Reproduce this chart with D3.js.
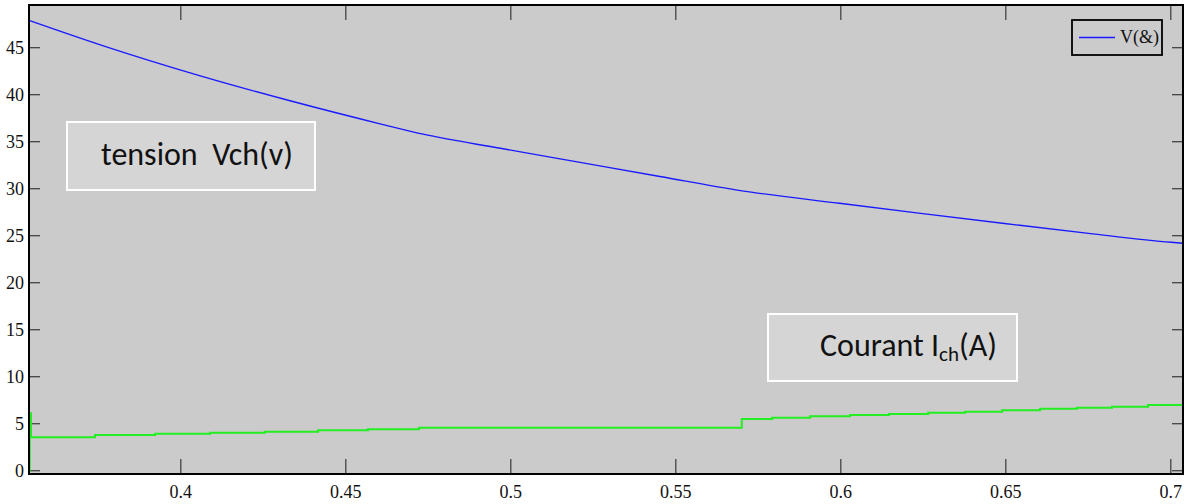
<!DOCTYPE html>
<html>
<head>
<meta charset="utf-8">
<script src="https://cdn.jsdelivr.net/npm/d3@7"></script>
<style>
  body { margin: 0; background: #fff; }
  svg text { font-family: "Liberation Serif", "Times New Roman", serif; }
  svg text.note { font-family: Carlito, "Open Sans", "Liberation Sans", sans-serif; }
</style>
</head>
<body>
<div id="chart"></div>
<script>
// tension (blue)
var vTime = [0.354, 0.3756, 0.4059, 0.4331, 0.4604, 0.4734, 0.4968, 0.521, 0.5452, 0.5696, 0.5996, 0.6236, 0.6496, 0.6751, 0.7001, 0.7037];
var vVals = [47.9, 45.3, 42.0, 39.35, 36.9, 35.8, 34.3, 32.8, 31.3, 29.8, 28.45, 27.4, 26.3, 25.25, 24.3, 24.2];

// courant (green), step-after
var iTime = [0.354, 0.3542, 0.3546, 0.374, 0.3922, 0.4089, 0.4255, 0.4416, 0.4567, 0.4722, 0.570, 0.5792, 0.5907, 0.6028, 0.6146, 0.6265, 0.6377, 0.6489, 0.6604, 0.6716, 0.6822, 0.6931, 0.7037];
var iVals = [0, 6.1, 3.55, 3.8, 3.94, 4.04, 4.15, 4.3, 4.4, 4.57, 5.5, 5.64, 5.79, 5.93, 6.03, 6.17, 6.28, 6.43, 6.6, 6.7, 6.81, 6.99, 6.99];

var xTicks = [0.4, 0.45, 0.5, 0.55, 0.6, 0.65, 0.7];
var yTicks = [0, 5, 10, 15, 20, 25, 30, 35, 40, 45];
var legendLabel = "V(&)";

window.onload = () => {
  var W = 1186, H = 504,
    margin = { top: 5, right: 3, bottom: 30, left: 29 },
    width = W - margin.left - margin.right,
    height = H - margin.top - margin.bottom;

  var x = d3.scaleLinear().domain([0.354, 0.7037]).range([0, width]);
  var y = d3.scaleLinear().domain([-0.35, 49.54]).range([height, 0]);

  var svg = d3.select("#chart").append("svg")
    .attr("width", W).attr("height", H);

  var g = svg.append("g")
    .attr("transform", "translate(" + margin.left + "," + margin.top + ")");

  g.append("rect")
    .attr("width", width).attr("height", height)
    .attr("fill", "#cbcbcb");

  // inside ticks, all four sides
  var tickColor = "#444";
  g.append("g").selectAll("line").data(xTicks).enter().append("line")
    .attr("x1", d => x(d)).attr("x2", d => x(d))
    .attr("y1", height).attr("y2", height - 15)
    .attr("stroke", tickColor).attr("stroke-width", 1.3);
  g.append("g").selectAll("line").data(xTicks).enter().append("line")
    .attr("x1", d => x(d)).attr("x2", d => x(d))
    .attr("y1", 0).attr("y2", 15)
    .attr("stroke", tickColor).attr("stroke-width", 1.3);
  g.append("g").selectAll("line").data(yTicks).enter().append("line")
    .attr("x1", 0).attr("x2", 11)
    .attr("y1", d => y(d)).attr("y2", d => y(d))
    .attr("stroke", tickColor).attr("stroke-width", 1.3);
  g.append("g").selectAll("line").data(yTicks).enter().append("line")
    .attr("x1", width).attr("x2", width - 11)
    .attr("y1", d => y(d)).attr("y2", d => y(d))
    .attr("stroke", tickColor).attr("stroke-width", 1.3);

  // tick labels
  g.append("g").selectAll("text").data(xTicks).enter().append("text")
    .attr("x", d => x(d)).attr("y", height + 24)
    .attr("text-anchor", "middle")
    .attr("font-size", 18)
    .attr("fill", "#111")
    .text(d => d3.format("")(d));
  g.append("g").selectAll("text").data(yTicks).enter().append("text")
    .attr("x", -5).attr("y", d => y(d))
    .attr("dy", "0.35em")
    .attr("text-anchor", "end")
    .attr("font-size", 18)
    .attr("fill", "#111")
    .text(d => d);

  // curves
  var lineV = d3.line()
    .x((d, i) => x(vTime[i]))
    .y(d => y(d))
    .curve(d3.curveMonotoneX);
  g.append("path")
    .datum(vVals)
    .attr("fill", "none")
    .attr("stroke", "#1a1aff")
    .attr("stroke-width", 1.4)
    .attr("d", lineV);

  var lineI = d3.line()
    .x((d, i) => x(iTime[i]))
    .y(d => y(d))
    .curve(d3.curveStepAfter);
  g.append("path")
    .datum(iVals)
    .attr("fill", "none")
    .attr("stroke", "#22ee22")
    .attr("stroke-width", 2)
    .attr("d", lineI);

  // frame
  g.append("rect")
    .attr("width", width).attr("height", height)
    .attr("fill", "none").attr("stroke", "#000").attr("stroke-width", 2);

  // legend
  var lg = svg.append("g");
  lg.append("rect")
    .attr("x", 1072).attr("y", 20).attr("width", 90).attr("height", 35)
    .attr("fill", "#cbcbcb").attr("stroke", "#000").attr("stroke-width", 1.8);
  lg.append("line")
    .attr("x1", 1079).attr("x2", 1115).attr("y1", 37.5).attr("y2", 37.5)
    .attr("stroke", "#1a1aff").attr("stroke-width", 1.4);
  lg.append("text")
    .attr("x", 1120).attr("y", 43)
    .attr("font-size", 18).attr("fill", "#111")
    .text(legendLabel);

  // annotation boxes
  svg.append("rect")
    .attr("x", 67).attr("y", 122).attr("width", 248).attr("height", 68)
    .attr("fill", "#d5d5d5").attr("stroke", "#fff").attr("stroke-width", 2);
  svg.append("text")
    .attr("class", "note")
    .attr("x", 101).attr("y", 165)
    .attr("font-size", 32).attr("fill", "#111")
    .attr("xml:space", "preserve")
    .text("tension  Vch(v)");

  svg.append("rect")
    .attr("x", 768).attr("y", 314).attr("width", 249).attr("height", 67)
    .attr("fill", "#d5d5d5").attr("stroke", "#fff").attr("stroke-width", 2);
  var ct = svg.append("text")
    .attr("class", "note")
    .attr("x", 820).attr("y", 356)
    .attr("font-size", 32).attr("fill", "#111");
  ct.append("tspan").text("Courant I");
  ct.append("tspan").attr("font-size", 21).attr("dy", 5).text("ch");
  ct.append("tspan").attr("dy", -5).text("(A)");
};
</script>
</body>
</html>
